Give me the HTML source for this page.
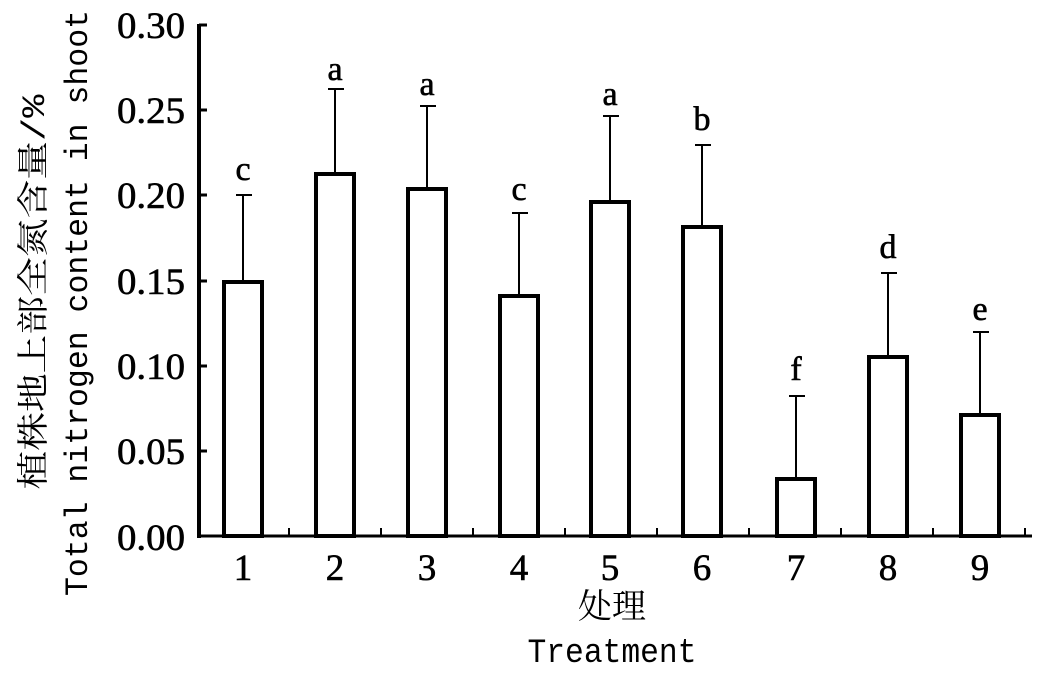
<!DOCTYPE html>
<html><head><meta charset="utf-8"><style>body{margin:0;background:#fff}svg text{fill:#000}.m{font-family:"Liberation Mono","Noto Serif CJK SC",monospace}.s{font-family:"Liberation Serif",serif}.c{font-family:"Noto Serif CJK SC","Liberation Serif",serif}</style></head>
<body><svg width="1053" height="680" xmlns="http://www.w3.org/2000/svg">
<g stroke="#000" fill="none">
<line x1="199" y1="24" x2="199" y2="538" stroke-width="4"/>
<line x1="197" y1="536" x2="1032" y2="536" stroke-width="3"/>
<g stroke-width="3">
<line x1="199" y1="25" x2="207" y2="25"/><line x1="199" y1="110" x2="207" y2="110"/>
<line x1="199" y1="195" x2="207" y2="195"/><line x1="199" y1="281" x2="207" y2="281"/>
<line x1="199" y1="366" x2="207" y2="366"/><line x1="199" y1="451" x2="207" y2="451"/>
</g>
<g stroke-width="2">
<line x1="289" y1="536" x2="289" y2="528"/><line x1="381" y1="536" x2="381" y2="528"/>
<line x1="473" y1="536" x2="473" y2="528"/><line x1="565" y1="536" x2="565" y2="528"/>
<line x1="657" y1="536" x2="657" y2="528"/><line x1="749" y1="536" x2="749" y2="528"/>
<line x1="841" y1="536" x2="841" y2="528"/><line x1="933" y1="536" x2="933" y2="528"/>
<line x1="1025" y1="536" x2="1025" y2="528"/>
</g>
</g>
<g stroke="#000" fill="#fff" stroke-width="4">
<rect x="224" y="282" width="38" height="254"/>
<rect x="316" y="174" width="38" height="362"/>
<rect x="408" y="189" width="38" height="347"/>
<rect x="500" y="296" width="38" height="240"/>
<rect x="591" y="202" width="38" height="334"/>
<rect x="683" y="227" width="38" height="309"/>
<rect x="777" y="479" width="38" height="57"/>
<rect x="869" y="357" width="38" height="179"/>
<rect x="961" y="415" width="38" height="121"/>
</g>
<g stroke="#000" stroke-width="2">
<path d="M243 280V195M236 195H252"/>
<path d="M335 172V89M328 89H344"/>
<path d="M427 187V106M420 106H436"/>
<path d="M519 294V213M512 213H528"/>
<path d="M610 200V116M603 116H619"/>
<path d="M702 225V145M695 145H711"/>
<path d="M796 477V396M789 396H805"/>
<path d="M888 355V273M881 273H897"/>
<path d="M980 413V332M973 332H989"/>
</g>
<g class="s" font-size="34" text-anchor="middle" stroke="#000" stroke-width="0.6">
<text x="243" y="180">c</text><text x="335" y="80">a</text><text x="427" y="95">a</text>
<text x="519" y="200">c</text><text x="610" y="105">a</text><text x="702" y="130">b</text>
<text x="796" y="380">f</text><text x="888" y="258">d</text><text x="980" y="320">e</text>
</g>
<g class="s" font-size="37" stroke="#000" stroke-width="0.6">
<text x="117" y="38" textLength="68" lengthAdjust="spacingAndGlyphs">0.30</text>
<text x="117" y="123" textLength="68" lengthAdjust="spacingAndGlyphs">0.25</text>
<text x="117" y="208" textLength="68" lengthAdjust="spacingAndGlyphs">0.20</text>
<text x="117" y="294" textLength="68" lengthAdjust="spacingAndGlyphs">0.15</text>
<text x="117" y="379" textLength="68" lengthAdjust="spacingAndGlyphs">0.10</text>
<text x="117" y="464" textLength="68" lengthAdjust="spacingAndGlyphs">0.05</text>
<text x="117" y="550" textLength="68" lengthAdjust="spacingAndGlyphs">0.00</text>
</g>
<g class="s" font-size="37" text-anchor="middle" stroke="#000" stroke-width="0.6">
<text x="243" y="580">1</text><text x="335" y="580">2</text><text x="427" y="580">3</text>
<text x="519" y="580">4</text><text x="610" y="580">5</text><text x="702" y="580">6</text>
<text x="796" y="580">7</text><text x="888" y="580">8</text><text x="980" y="580">9</text>
</g>
<text class="m" x="612" y="662" font-size="34" text-anchor="middle" textLength="169" lengthAdjust="spacingAndGlyphs">Treatment</text>
<text class="c" x="612" y="618" font-size="34" text-anchor="middle">处理</text>
<text class="m" transform="translate(44,292) rotate(-90)" font-size="32" text-anchor="middle" textLength="395" lengthAdjust="spacingAndGlyphs">植株地上部全氮含量/%</text>
<text class="m" transform="translate(87,303) rotate(-90)" font-size="32" text-anchor="middle" textLength="586" lengthAdjust="spacingAndGlyphs">Total nitrogen content in shoot</text>
</svg></body></html>
